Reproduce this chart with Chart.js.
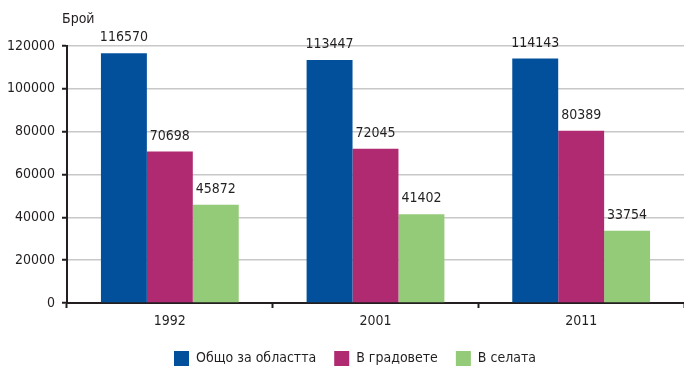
<!DOCTYPE html>
<html>
<head>
<meta charset="utf-8">
<script src="https://cdn.jsdelivr.net/npm/chart.js@4"></script>
<style>
  html, body { margin: 0; padding: 0; background: #fff; }
  #wrap { width: 684px; height: 368px; }
</style>
</head>
<body>
<div id="wrap"><canvas id="chart" width="684" height="368"></canvas></div>
<script>
// data
const years = ['1992', '2001', '2011'];
const seriesNames = ['Общо за областта', 'В градовете', 'В селата'];
const totalRegion = [116570, 113447, 114143];
const inTowns = [70698, 72045, 80389];
const inVillages = [45872, 41402, 33754];
const yTicks = [0, 20000, 40000, 60000, 80000, 100000, 120000];
const seriesColors = ['#02509b', '#b02a72', '#94cb78'];

const FONT = "'DejaVu Sans Condensed', 'Liberation Sans Narrow', sans-serif";
const TEXT = '#231f20';

// value labels above each bar + the "Брой" caption over the y axis
const labelsPlugin = {
    id: 'barLabels',
    afterInit(chart) {
        // squeeze the legend box so the plot keeps its height
        const fit = chart.legend.fit;
        chart.legend.fit = function () {
            fit.call(this);
            this.height = 35;
        };
    },
    afterLayout(chart) {
        // legend sits a bit right of the canvas centre in the original
        chart.legend.left += 13;
        chart.legend.right += 13;
    },
    afterDatasetsDraw(chart) {
        const ctx = chart.ctx;
        ctx.save();
        ctx.font = '14px ' + FONT;
        ctx.fillStyle = TEXT;
        ctx.textAlign = 'center';
        ctx.textBaseline = 'alphabetic';
        chart.data.datasets.forEach((ds, i) => {
            chart.getDatasetMeta(i).data.forEach((bar, j) => {
                ctx.fillText(String(ds.data[j]), bar.x, bar.y - 12);
            });
        });
        ctx.textAlign = 'left';
        ctx.textBaseline = 'middle';
        ctx.fillText('Брой', chart.chartArea.left - 5, 19);
        ctx.restore();
    }
};

new Chart(document.getElementById('chart'), {
    type: 'bar',
    data: {
        labels: years,
        datasets: [
            { label: seriesNames[0], data: totalRegion, backgroundColor: seriesColors[0] },
            { label: seriesNames[1], data: inTowns, backgroundColor: seriesColors[1] },
            { label: seriesNames[2], data: inVillages, backgroundColor: seriesColors[2] }
        ]
    },
    options: {
        responsive: false,
        animation: false,
        devicePixelRatio: 1,
        datasets: {
            bar: { barPercentage: 1, categoryPercentage: 0.67 }
        },
        layout: { padding: { top: 46, left: 0, right: 0, bottom: 0 } },
        plugins: {
            legend: {
                position: 'bottom',
                labels: {
                    boxWidth: 15,
                    boxHeight: 15,
                    padding: 18,
                    color: TEXT,
                    font: { family: FONT, size: 14 }
                }
            },
            tooltip: { enabled: false }
        },
        scales: {
            x: {
                grid: {
                    drawOnChartArea: false,
                    drawTicks: true,
                    tickLength: 5,
                    tickColor: TEXT,
                    tickWidth: 2
                },
                border: { color: TEXT, width: 2 },
                ticks: { color: TEXT, padding: 5, font: { family: FONT, size: 14 } },
                afterFit(scale) { scale.height = 30; }
            },
            y: {
                min: 0,
                max: 120000,
                afterBuildTicks(scale) { scale.ticks = yTicks.map(v => ({ value: v })); },
                grid: {
                    color: '#c8c8c8',
                    lineWidth: 1.5,
                    drawTicks: true,
                    tickLength: 5,
                    tickColor: TEXT,
                    tickWidth: 2
                },
                border: { color: TEXT, width: 2 },
                ticks: {
                    color: TEXT,
                    padding: 7,
                    font: { family: FONT, size: 14 },
                    callback: v => String(v)
                },
                afterFit(scale) { scale.width = 67; }
            }
        }
    },
    plugins: [labelsPlugin]
});
</script>
</body>
</html>
